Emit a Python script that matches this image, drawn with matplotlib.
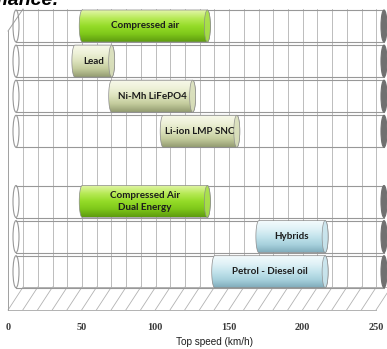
import numpy as np
import matplotlib
matplotlib.use("Agg")
import matplotlib.pyplot as plt
from matplotlib.patches import Ellipse, PathPatch
from matplotlib.path import Path
from matplotlib.colors import LinearSegmentedColormap

# ---- data -------------------------------------------------------------
categories = ["Compressed air", "Lead", "Ni-Mh LiFePO4", "Li-ion LMP SNC", "",
              "Compressed Air\nDual Energy", "Hybrids", "Petrol - Diesel oil"]
speed_min = [45, 40, 65, 100, None, 45, 165, 135]
speed_max = [130, 65, 120, 150, None, 130, 210, 210]
bar_style = ["green", "olive", "olive", "olive", None, "green", "blue", "blue"]
x_ticks = [0, 50, 100, 150, 200, 250]
x_label = "Top speed (km/h)"
title = "Performance:"
axis_max = 250

# ---- styles -----------------------------------------------------------
gradients = {
    "green": ["#e2f5a8", "#b8ea58", "#95dc28", "#7fc81a", "#5e9c10"],
    "olive": ["#f7f8ea", "#eef1d8", "#dde3bd", "#c3cb9c", "#949d72"],
    "blue":  ["#f2fafc", "#dff1f6", "#c2e3ec", "#a6d0dc", "#7eaab9"],
}
end_faces = {"green": "#a9df4e", "olive": "#d9dfbc", "blue": "#c9e4ec"}

W, H, DPI = 387, 349, 100
fig = plt.figure(figsize=(W / DPI, H / DPI), dpi=DPI)
ax = fig.add_axes([0, 0, 1, 1])
ax.set_axis_off()

# value axis: 0 km/h at px 16, 1.472 px per km/h; one row = 35.1 px
PX0, SX = 16.0, 1.472
PY0, SY = 26.0, 35.1
ax.set_xlim((0 - PX0) / SX, (W - PX0) / SX)
ax.set_ylim((H - PY0) / SY, (0 - PY0) / SY)


def ypx(p):
    return (p - PY0) / SY


BACK_DX, FRONT_DX = 4.8, -5.4          # depth offsets of back wall / front edge
WALL_TOP, WALL_BOTTOM, FLOOR_FRONT = ypx(9), ypx(287), ypx(310)
HB = 16 / SY                            # half height of a cylinder
CA = 3.0 / SX                           # half width of a cylinder end cap
GRID = "#b2b2b2"

# back wall gridlines
for v in range(0, axis_max + 1, 10):
    ax.plot([v + BACK_DX] * 2, [WALL_TOP, WALL_BOTTOM], color=GRID, lw=0.6, zorder=1)
# floor
for v in range(0, axis_max + 1, 10):
    ax.plot([v + BACK_DX, v + FRONT_DX], [WALL_BOTTOM, FLOOR_FRONT], color=GRID, lw=0.6, zorder=1)
ax.plot([BACK_DX, axis_max + BACK_DX], [WALL_BOTTOM] * 2, color=GRID, lw=0.7, zorder=1)
ax.plot([FRONT_DX, axis_max + FRONT_DX], [FLOOR_FRONT] * 2, color=GRID, lw=0.7, zorder=1)
# side wall
ax.plot([FRONT_DX] * 2, [ypx(31), FLOOR_FRONT], color="#a0a0a0", lw=0.7, zorder=1)
ax.plot([FRONT_DX, BACK_DX], [ypx(31), WALL_TOP], color="#a0a0a0", lw=0.7, zorder=1)


def capsule_path(x0, x1, yc):
    t = np.linspace(-np.pi / 2, np.pi / 2, 40)
    right = np.column_stack([x1 + CA * np.cos(t), yc + HB * np.sin(t)])
    left = np.column_stack([x0 - CA * np.cos(t), yc - HB * np.sin(t)])
    pts = np.vstack([right, left, right[:1]])
    codes = [Path.MOVETO] + [Path.LINETO] * (len(pts) - 2) + [Path.CLOSEPOLY]
    return Path(pts, codes)


for row, (lo, hi, style, name) in enumerate(zip(speed_min, speed_max, bar_style, categories)):
    if lo is None:
        continue
    yc = row
    # full-range outline cylinder
    ax.plot([0, axis_max], [yc - HB] * 2, color="#989898", lw=0.8, zorder=2)
    ax.plot([0, axis_max], [yc + HB] * 2, color="#989898", lw=0.8, zorder=2)
    ax.add_patch(Ellipse((0, yc), 2 * CA, 2 * HB, facecolor="none",
                         edgecolor="#989898", lw=0.8, zorder=2))
    ax.add_patch(Ellipse((axis_max, yc), 2 * CA, 2 * HB, facecolor="#707070",
                         edgecolor="#707070", lw=0.8, zorder=2))

    # shaded value cylinder
    cmap = LinearSegmentedColormap.from_list(style, gradients[style])
    img = cmap(np.linspace(0, 1, 64))[:, None, :]
    patch = PathPatch(capsule_path(lo, hi, yc), facecolor="none",
                      edgecolor="#8a8a8a", lw=0.5, zorder=3.2)
    ax.add_patch(patch)
    im = ax.imshow(img, extent=(lo - CA, hi + CA, yc + HB, yc - HB), origin="upper",
                   aspect="auto", interpolation="bilinear", zorder=3)
    im.set_clip_path(patch)
    ax.add_patch(Ellipse((hi, yc), 2 * CA, 2 * HB, facecolor=end_faces[style],
                         edgecolor="#8a8a8a", lw=0.5, alpha=0.9, zorder=3.3))

    ax.text((lo + hi) / 2, yc, name, ha="center", va="center", ma="center",
            family=["Lato", "DejaVu Sans"], fontweight="bold", fontsize=7.1,
            color="#1c1c1c", linespacing=1.45, zorder=4)

# axis tick labels along the front edge
for v in x_ticks:
    ax.text(v + FRONT_DX, ypx(328), str(v), ha="center", va="center",
            family=["Liberation Serif"], fontweight="bold", fontsize=7.4,
            color="#3a3a3a")

ax.text((215 - PX0) / SX, ypx(342), x_label, ha="center", va="center",
        family=["Liberation Sans"], fontsize=7.2, color="#1e1e1e")

fig.text(60 / W, 1 - 5 / H, title, ha="right", va="baseline",
         family=["Liberation Sans"], fontweight="bold", style="italic",
         fontsize=14, color="black")

fig.savefig("out.png", dpi=DPI, facecolor="white")
